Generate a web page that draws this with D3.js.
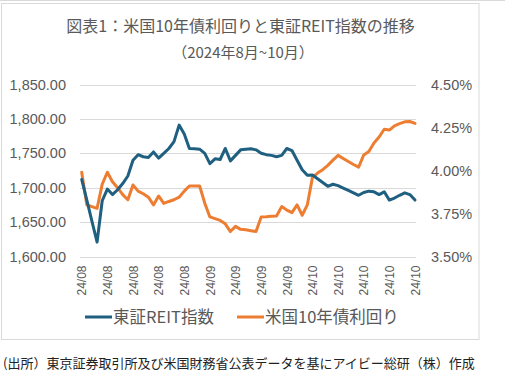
<!DOCTYPE html>
<html><head><meta charset="utf-8">
<script src="https://cdn.jsdelivr.net/npm/d3@7"></script>
<style>body{margin:0;background:#fff}svg{display:block}</style>
</head><body>
<svg id="c" width="505" height="375"></svg>
<script>
const tickLabels = ["24/08","24/08","24/08","24/08","24/08","24/09","24/09","24/09","24/09","24/10","24/10","24/10","24/10","24/10"];
const reit = [1712,1682,1651,1621,1681,1698,1690,1697,1706,1717,1740,1748,1745,1744,1752,1743,1750,1757,1767,1791,1778,1757,1756.5,1756,1750,1735,1742,1741,1757,1739,1747,1755,1756,1756.5,1755,1750,1748,1747,1745,1747,1757,1754,1740,1726,1718,1718.5,1713,1707.5,1702,1705,1703,1699.5,1696,1692.5,1689,1693,1695,1694,1690,1694,1682,1685,1689,1692.5,1690,1682];
const yield10 = [3.99,3.80,3.79,3.78,3.92,3.99,3.935,3.90,3.86,3.83,3.916,3.88,3.865,3.845,3.80,3.852,3.809,3.82,3.83,3.845,3.88,3.91,3.91,3.91,3.81,3.73,3.72,3.71,3.69,3.645,3.675,3.658,3.655,3.65,3.645,3.73,3.731,3.734,3.736,3.79,3.77,3.755,3.80,3.74,3.80,3.96,3.985,4.005,4.03,4.06,4.088,4.07,4.052,4.035,4.02,4.09,4.11,4.16,4.195,4.24,4.235,4.26,4.272,4.283,4.285,4.274];
const leftTicks = [1600,1650,1700,1750,1800,1850];
const rightTicks = [3.50,3.75,4.00,4.25,4.50];
const seriesNames = ["東証REIT指数","米国10年債利回り"];
const colors = ["#1f5f80","#ed7d31"];

const svg = d3.select("#c");
const font = "'Noto Sans CJK JP','Noto Sans',sans-serif";
svg.append("line").attr("x1",0).attr("x2",505).attr("y1",0.5).attr("y2",0.5).attr("stroke","#d9d9d9");
svg.append("rect").attr("x",1.5).attr("y",3.5).attr("width",477.5).attr("height",336).attr("fill","none").attr("stroke","#d9d9d9");

const x0 = 81.7, x1 = 415, yTop = 84.5, yBot = 256.5;
const x = d3.scaleLinear().domain([0, reit.length-1]).range([x0, x1]);
const yL = d3.scaleLinear().domain([1600,1850]).range([yBot, yTop]);
const yR = d3.scaleLinear().domain([3.5,4.5]).range([yBot, yTop]);

svg.append("g").selectAll("line").data(leftTicks).join("line")
  .attr("x1",80).attr("x2",416).attr("y1",d=>Math.round(yL(d))+0.5).attr("y2",d=>Math.round(yL(d))+0.5)
  .attr("stroke","#d9d9d9").attr("stroke-width",1);

const fmtL = d3.format(",.2f");
const gL = svg.append("g").attr("transform",`translate(66,0)`)
  .call(d3.axisLeft(yL).tickValues(leftTicks).tickFormat(fmtL).tickSize(0).tickPadding(0));
gL.select(".domain").remove();
gL.selectAll("text").attr("font-family","'Liberation Sans',Arial,sans-serif").attr("font-size",14.5).attr("fill","#595959");

const gR = svg.append("g").attr("transform",`translate(431,0)`)
  .call(d3.axisRight(yR).tickValues(rightTicks).tickFormat(d=>d3.format(".2f")(d)+"%").tickSize(0).tickPadding(0));
gR.select(".domain").remove();
gR.selectAll("text").attr("font-family","'Liberation Sans',Arial,sans-serif").attr("font-size",14.5).attr("fill","#595959");

const xIdx = tickLabels.map((_,i)=>i*5);
const gX = svg.append("g").attr("transform",`translate(0,${yBot+8})`)
  .call(d3.axisBottom(x).tickValues(xIdx).tickFormat((d,i)=>tickLabels[i]).tickSize(0).tickPadding(0));
gX.select(".domain").remove();
gX.selectAll("text").attr("font-family","'Liberation Sans',Arial,sans-serif").attr("font-size",12).attr("fill","#595959")
  .attr("transform","rotate(-90)").attr("text-anchor","end").attr("dy","0.35em").attr("dx","0").attr("y",0).attr("x",-1);

const lineL = d3.line().x((d,i)=>x(i)).y(d=>yL(d));
const lineR = d3.line().x((d,i)=>x(i)).y(d=>yR(d));
svg.append("path").datum(yield10).attr("d",lineR).attr("fill","none").attr("stroke",colors[1]).attr("stroke-width",3).attr("stroke-linejoin","round").attr("stroke-linecap","round");
svg.append("path").datum(reit).attr("d",lineL).attr("fill","none").attr("stroke",colors[0]).attr("stroke-width",3).attr("stroke-linejoin","round").attr("stroke-linecap","round");

svg.append("text").attr("x",240.5).attr("y",32).attr("text-anchor","middle").attr("font-family",font).attr("font-size",16).attr("fill","#595959").text("図表1：米国10年債利回りと東証REIT指数の推移");
svg.append("text").attr("x",243).attr("y",58).attr("text-anchor","middle").attr("font-family",font).attr("font-size",15).attr("fill","#595959").text("（2024年8月~10月）");

const leg = [{x:85,name:seriesNames[0],c:colors[0]},{x:237,name:seriesNames[1],c:colors[1]}];
leg.forEach(l=>{
  svg.append("line").attr("x1",l.x).attr("x2",l.x+27).attr("y1",317).attr("y2",317).attr("stroke",l.c).attr("stroke-width",3);
  svg.append("text").attr("x",l.x+28).attr("y",323).attr("font-family",font).attr("font-size",16.5).attr("fill","#595959").text(l.name);
});

svg.append("text").attr("x",3).attr("y",368).attr("font-family",font).attr("font-size",13).attr("fill","#222").text("(出所）東京証券取引所及び米国財務省公表データを基にアイビー総研（株）作成");
</script>
</body></html>
